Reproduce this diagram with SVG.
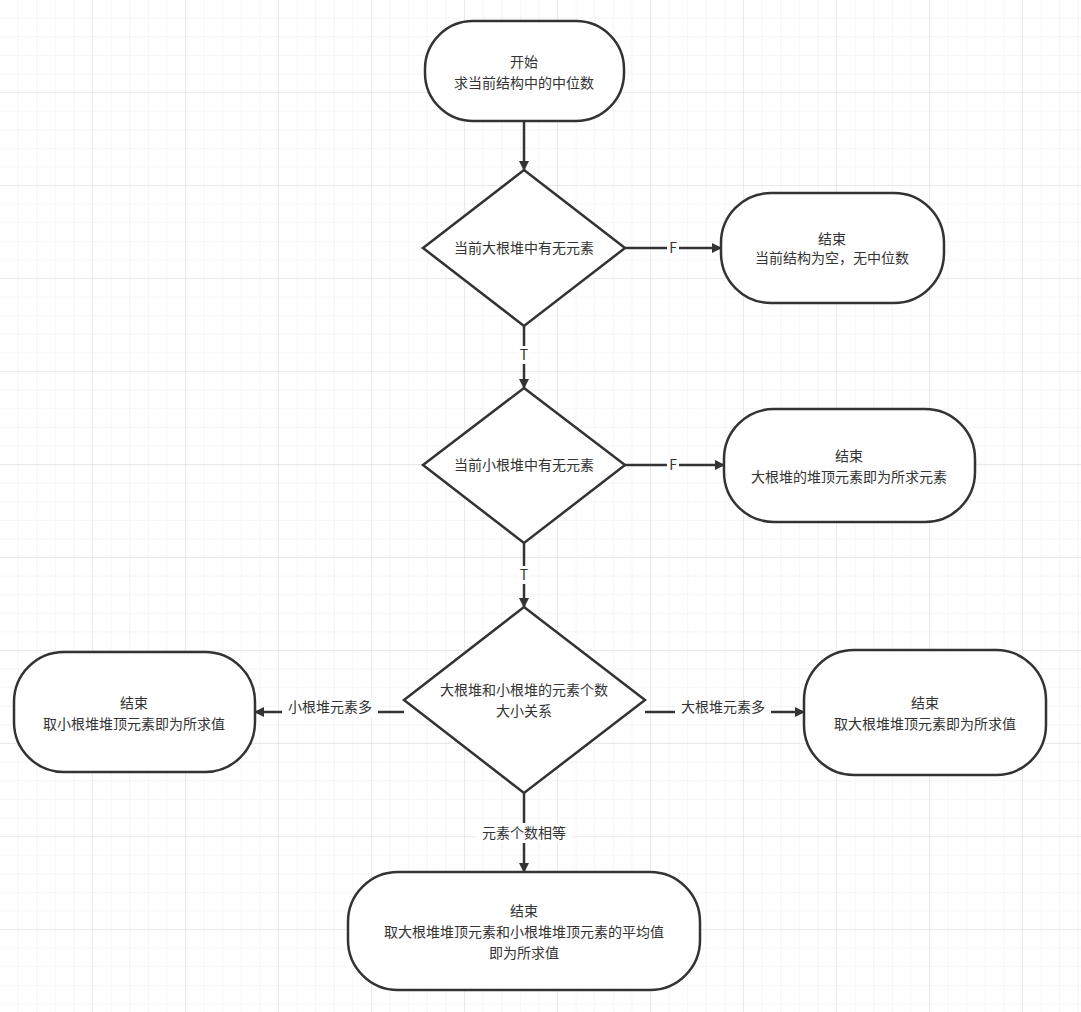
<svg xmlns="http://www.w3.org/2000/svg" width="1081" height="1012" viewBox="0 0 1081 1012">
<defs>
<pattern id="g" width="18.6" height="18.6" patternUnits="userSpaceOnUse"><path d="M18.6 0V18.6H0" fill="none" stroke="#ececec" stroke-width="1"/></pattern>
<pattern id="G" width="93" height="93" patternUnits="userSpaceOnUse"><rect width="93" height="93" fill="url(#g)"/><path d="M93 0V93H0" fill="none" stroke="#dedede" stroke-width="1"/></pattern>
<marker id="a" markerWidth="10" markerHeight="10" refX="9" refY="5" orient="auto" markerUnits="userSpaceOnUse" viewBox="0 0 10 10"><path d="M0 0L10 5L0 10Z" fill="#333"/></marker>
</defs>
<style>
.n{fill:#fff;stroke:#333;stroke-width:2.5}
.t{font-family:"Noto Sans CJK SC","Liberation Sans",sans-serif;font-size:14px;fill:#333;text-anchor:middle}
.c{stroke:#333;stroke-width:2.5;fill:none;marker-end:url(#a)}
.l{font-family:"Noto Sans CJK SC","Liberation Sans",sans-serif;font-size:14px;fill:#333;text-anchor:middle}
</style>
<rect width="1081" height="1012" fill="#fff"/>
<rect width="1081" height="1012" fill="url(#G)"/>
<g id="connectors">
<path class="c" d="M524 121V170"/>
<path class="c" d="M625 248H721"/>
<path class="c" d="M524 326V388"/>
<path class="c" d="M605 465H724"/>
<path class="c" d="M524 543V607"/>
<path class="c" d="M404 700H255" transform="translate(0,12)"/>
<path class="c" d="M645 700H804" transform="translate(0,12)"/>
<path class="c" d="M524 793V872"/>
<rect x="667" y="239" width="12" height="18" fill="#fff"/><text class="l" x="673" y="253">F</text>
<rect x="518" y="346" width="12" height="18" fill="#fff"/><text class="l" x="524" y="360">T</text>
<rect x="667" y="456" width="12" height="18" fill="#fff"/><text class="l" x="673" y="470">F</text>
<rect x="518" y="566" width="12" height="18" fill="#fff"/><text class="l" x="524" y="580">T</text>
<rect x="282" y="698" width="96" height="20" fill="#fff"/><text class="l" x="330" y="712">小根堆元素多</text>
<rect x="675" y="698" width="96" height="20" fill="#fff"/><text class="l" x="723" y="712">大根堆元素多</text>
<rect x="476" y="823" width="96" height="20" fill="#fff"/><text class="l" x="524" y="838">元素个数相等</text>
</g>
<g id="start"><rect class="n" x="425" y="21" width="199" height="100" rx="48"/><text class="t" x="524" y="67">开始</text><text class="t" x="524" y="88">求当前结构中的中位数</text></g>
<g id="d1"><path class="n" d="M524 170L625 248L524 326L423 248Z"/><text class="t" x="524" y="253">当前大根堆中有无元素</text></g>
<g id="e1"><rect class="n" x="721" y="193" width="223" height="110" rx="50"/><text class="t" x="832" y="244">结束</text><text class="t" x="832" y="263">当前结构为空，无中位数</text></g>
<g id="d2"><path class="n" d="M524 388L625 465L524 543L423 465Z"/><text class="t" x="524" y="470">当前小根堆中有无元素</text></g>
<g id="e2"><rect class="n" x="724" y="409" width="251" height="113" rx="50"/><text class="t" x="849" y="461">结束</text><text class="t" x="849" y="482">大根堆的堆顶元素即为所求元素</text></g>
<g id="d3"><path class="n" d="M524 607L645 700L524 793L404 700Z"/><text class="t" x="524" y="695">大根堆和小根堆的元素个数</text><text class="t" x="524" y="716">大小关系</text></g>
<g id="eL"><rect class="n" x="14" y="652" width="241" height="120" rx="50"/><text class="t" x="134" y="708">结束</text><text class="t" x="134" y="729">取小根堆堆顶元素即为所求值</text></g>
<g id="eR"><rect class="n" x="804" y="650" width="242" height="125" rx="50"/><text class="t" x="925" y="708">结束</text><text class="t" x="925" y="729">取大根堆堆顶元素即为所求值</text></g>
<g id="eB"><rect class="n" x="348" y="872" width="352" height="118" rx="50"/><text class="t" x="524" y="916">结束</text><text class="t" x="524" y="937">取大根堆堆顶元素和小根堆堆顶元素的平均值</text><text class="t" x="524" y="958">即为所求值</text></g>
</svg>
